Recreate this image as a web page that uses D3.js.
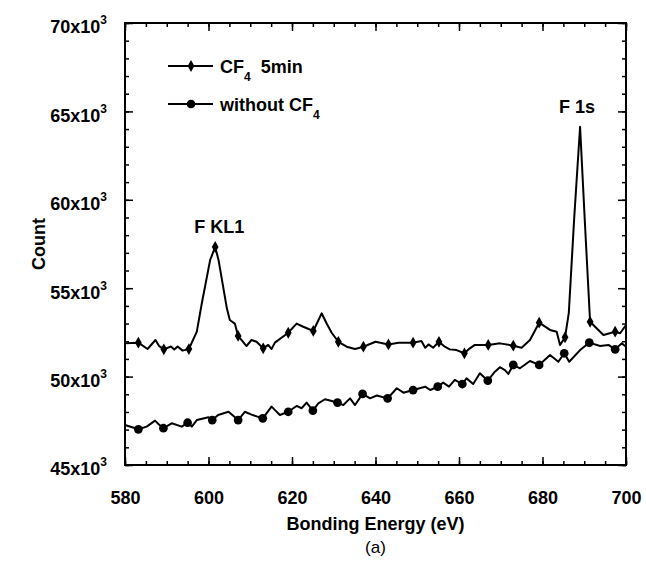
<!DOCTYPE html>
<html>
<head>
<meta charset="utf-8">
<script src="https://cdn.jsdelivr.net/npm/d3@7"></script>
<style>
  body { margin: 0; background: #fff; }
  text { font-family: "Liberation Sans", Arial, sans-serif; fill: #000; }
</style>
</head>
<body>
<div id="chart"></div>
<script>
// Data (energy in eV, counts in units of 10^3)
const cf4Energy = [580, 583.2, 585.4, 587.3, 588.2, 589.3, 591.0, 591.8, 592.6, 593.8, 595.3, 597.2, 598.4, 600.4, 601.6, 602.4, 604.4, 605.1, 606.3, 607.1, 609.1, 610.3, 611.5, 613.1, 614.3, 615.1, 615.9, 619.1, 621.1, 622.7, 625.1, 627.1, 628.3, 629.5, 631.1, 633.1, 635.1, 637.1, 640.0, 643.1, 645.5, 649.0, 651.0, 651.9, 652.7, 653.8, 655.2, 656.6, 657.8, 659.4, 661.3, 662.6, 663.8, 667.0, 669.8, 673.0, 675.0, 677.0, 679.2, 681.8, 683.4, 684.2, 685.4, 686.3, 687.6, 689.0, 690.2, 691.4, 693.8, 694.6, 697.4, 698.6, 700];
const cf4Count = [51.88, 51.92, 51.56, 52.07, 51.72, 51.54, 51.7, 51.53, 51.7, 51.47, 51.56, 52.54, 54.15, 56.6, 57.33, 56.6, 53.86, 53.2, 53.0, 52.3, 51.73, 52.07, 51.97, 51.6, 51.79, 51.56, 51.92, 52.48, 53.0, 52.82, 52.58, 53.58, 53.0, 52.48, 51.97, 51.69, 51.56, 51.69, 51.97, 51.82, 51.92, 51.92, 52.01, 51.63, 51.82, 51.63, 51.97, 51.69, 51.54, 51.5, 51.32, 51.6, 51.79, 51.79, 51.88, 51.75, 51.63, 52.07, 53.05, 52.64, 52.54, 51.79, 52.22, 53.6, 59.0, 64.13, 58.5, 53.1, 52.54, 52.35, 52.54, 52.45, 52.92];
const cf4Markers = [583.2, 589.3, 595.3, 601.6, 607.1, 613.1, 619.1, 625.1, 631.1, 637.1, 643.1, 649.0, 655.2, 661.3, 667.0, 673.0, 679.2, 685.4, 691.4, 697.4];

const bareEnergy = [580, 583.2, 585.2, 587.2, 588.0, 589.2, 591.2, 593.6, 595.0, 596.0, 597.2, 600.0, 600.9, 602.3, 604.8, 607.1, 608.7, 610.3, 613.0, 615.1, 617.1, 619.1, 621.1, 622.3, 623.5, 625.0, 626.3, 627.9, 630.9, 632.3, 633.9, 635.1, 636.9, 638.7, 640.3, 642.9, 645.1, 646.7, 649.0, 651.9, 653.1, 654.9, 656.2, 657.6, 659.0, 660.8, 661.8, 663.4, 665.0, 666.9, 668.6, 669.8, 671.0, 671.8, 673.0, 674.6, 677.0, 679.2, 681.8, 683.8, 685.2, 686.4, 689.0, 691.2, 693.8, 695.8, 697.4, 699.0, 700];
const bareCount = [47.26, 47.02, 47.17, 47.51, 47.32, 47.08, 47.36, 47.17, 47.39, 47.17, 47.54, 47.7, 47.54, 47.83, 48.01, 47.54, 48.01, 47.85, 47.64, 48.3, 47.83, 48.01, 48.34, 48.21, 48.53, 48.08, 48.49, 48.72, 48.53, 48.39, 48.77, 48.39, 49.02, 48.77, 48.93, 48.77, 49.34, 49.09, 49.24, 49.43, 49.24, 49.43, 49.66, 49.43, 49.81, 49.58, 49.9, 49.58, 50.19, 49.77, 50.28, 50.53, 50.37, 50.15, 50.66, 50.47, 50.88, 50.66, 51.22, 50.84, 51.32, 50.84, 51.5, 51.92, 51.73, 51.79, 51.54, 51.88, 51.69];
const bareMarkers = [583.2, 589.2, 595.0, 600.9, 607.1, 613.0, 619.1, 625.0, 630.9, 636.9, 642.9, 649.0, 654.9, 660.8, 666.9, 673.0, 679.2, 685.2, 691.2, 697.4];

const xTicks = [580, 600, 620, 640, 660, 680, 700];
const yTicks = [45, 50, 55, 60, 65, 70];
const peakLabels = [
  { text: "F KL1", energy: 601.6, count: 57.33 },
  { text: "F 1s", energy: 689.0, count: 64.13 }
];
const peakLabelDx = [4, -3];

const width = 646, height = 563;
const margin = { top: 23, right: 20, bottom: 98, left: 125 };
const innerW = width - margin.left - margin.right;
const innerH = height - margin.top - margin.bottom;

const svg = d3.select("#chart")
  .append("svg")
  .attr("width", width)
  .attr("height", height);

const g = svg.append("g")
  .attr("transform", "translate(" + margin.left + "," + margin.top + ")");

const x = d3.scaleLinear().domain([580, 700]).range([0, innerW]);
const y = d3.scaleLinear().domain([45, 70]).range([innerH, 0]);

// minor ticks (inside)
const xMinor = d3.range(580, 701, 5);
const yMinor = d3.range(45, 70.01, 1);

function styleAxis(sel) {
  sel.select(".domain").remove();
  sel.selectAll("line").attr("stroke", "#000").attr("stroke-width", 1.5);
}

g.append("g").attr("transform", "translate(0," + innerH + ")")
  .call(d3.axisBottom(x).tickValues(xMinor).tickSize(-4).tickFormat(""))
  .call(styleAxis);
g.append("g")
  .call(d3.axisTop(x).tickValues(xMinor).tickSize(-4).tickFormat(""))
  .call(styleAxis);
g.append("g")
  .call(d3.axisLeft(y).tickValues(yMinor).tickSize(-4).tickFormat(""))
  .call(styleAxis);
g.append("g").attr("transform", "translate(" + innerW + ",0)")
  .call(d3.axisRight(y).tickValues(yMinor).tickSize(-4).tickFormat(""))
  .call(styleAxis);

// major ticks
const xAxis = g.append("g").attr("transform", "translate(0," + innerH + ")")
  .call(d3.axisBottom(x).tickValues(xTicks).tickSizeInner(-8).tickSizeOuter(0).tickPadding(26))
  .call(styleAxis);
xAxis.selectAll("text").attr("font-size", 18).attr("font-weight", "bold")
  .attr("font-family", "Liberation Sans, Arial, sans-serif");

g.append("g")
  .call(d3.axisTop(x).tickValues(xTicks).tickSizeInner(-8).tickSizeOuter(0).tickFormat(""))
  .call(styleAxis);

const yAxis = g.append("g")
  .call(d3.axisLeft(y).tickValues(yTicks).tickSizeInner(-8).tickSizeOuter(0).tickPadding(12)
    .tickFormat(d => d + "x10"))
  .call(styleAxis);
yAxis.selectAll("text")
  .attr("font-size", 18).attr("font-weight", "bold")
  .attr("font-family", "Liberation Sans, Arial, sans-serif")
  .attr("dy", "0.55em")
  .attr("dx", -6)
  .append("tspan")
  .attr("font-size", 12)
  .attr("dy", -9)
  .text("3");

g.append("g").attr("transform", "translate(" + innerW + ",0)")
  .call(d3.axisRight(y).tickValues(yTicks).tickSizeInner(-8).tickSizeOuter(0).tickFormat(""))
  .call(styleAxis);

// frame
g.append("rect")
  .attr("width", innerW).attr("height", innerH)
  .attr("fill", "none").attr("stroke", "#000").attr("stroke-width", 2);

// series
const cf4 = cf4Energy.map((e, i) => ({ e: e, c: cf4Count[i] }));
const bare = bareEnergy.map((e, i) => ({ e: e, c: bareCount[i] }));

const line = d3.line().x(d => x(d.e)).y(d => y(d.c));

g.append("path").datum(bare)
  .attr("fill", "none").attr("stroke", "#000").attr("stroke-width", 2)
  .attr("stroke-linejoin", "round").attr("d", line);
g.append("path").datum(cf4)
  .attr("fill", "none").attr("stroke", "#000").attr("stroke-width", 2)
  .attr("stroke-linejoin", "round").attr("d", line);

const diamond = d3.symbol().type(d3.symbolDiamond).size(40);
const circle = d3.symbol().type(d3.symbolCircle).size(60);

g.selectAll(".cf4-marker")
  .data(cf4.filter(d => cf4Markers.includes(d.e)))
  .enter().append("path")
  .attr("class", "cf4-marker")
  .attr("transform", d => "translate(" + x(d.e) + "," + y(d.c) + ")")
  .attr("d", diamond).attr("fill", "#000");

g.selectAll(".bare-marker")
  .data(bare.filter(d => bareMarkers.includes(d.e)))
  .enter().append("path")
  .attr("class", "bare-marker")
  .attr("transform", d => "translate(" + x(d.e) + "," + y(d.c) + ")")
  .attr("d", circle).attr("fill", "#000");

// peak labels
g.selectAll(".peak-label")
  .data(peakLabels)
  .enter().append("text")
  .attr("class", "peak-label")
  .attr("x", (d, i) => x(d.energy) + peakLabelDx[i])
  .attr("y", d => y(d.count) - 14)
  .attr("text-anchor", "middle")
  .attr("font-size", 18).attr("font-weight", "bold")
  .text(d => d.text);

// legend
const legend = g.append("g").attr("transform", "translate(43,43)");
const legendRows = [
  { sym: diamond, main: "CF", sub: "4", rest: " 5min" },
  { sym: circle, main: "without CF", sub: "4", rest: "" }
];
const legendItem = legend.selectAll(".legend-item")
  .data(legendRows)
  .enter().append("g")
  .attr("class", "legend-item")
  .attr("transform", (d, i) => "translate(0," + (i * 38) + ")");

legendItem.append("line")
  .attr("x1", 0).attr("x2", 45).attr("y1", 0).attr("y2", 0)
  .attr("stroke", "#000").attr("stroke-width", 2);
legendItem.append("path")
  .attr("transform", "translate(23,0)")
  .attr("d", d => d.sym()).attr("fill", "#000");
const lt = legendItem.append("text")
  .attr("x", 52).attr("y", 7)
  .attr("font-size", 18).attr("font-weight", "bold");
lt.append("tspan").text(d => d.main);
lt.append("tspan").attr("font-size", 12).attr("dy", 8).text(d => d.sub);
lt.append("tspan").attr("dy", -8).text(d => d.rest ? "\u00a0" + d.rest : "");

// axis titles
svg.append("text")
  .attr("transform", "translate(45," + (margin.top + innerH / 2) + ") rotate(-90)")
  .attr("text-anchor", "middle")
  .attr("font-size", 18).attr("font-weight", "bold")
  .text("Count");

svg.append("text")
  .attr("x", margin.left + innerW / 2 + 0).attr("y", 530)
  .attr("text-anchor", "middle")
  .attr("font-size", 18).attr("font-weight", "bold")
  .text("Bonding Energy (eV)");

svg.append("text")
  .attr("x", margin.left + innerW / 2).attr("y", 553)
  .attr("text-anchor", "middle")
  .attr("font-size", 17)
  .text("(a)");
</script>
</body>
</html>
